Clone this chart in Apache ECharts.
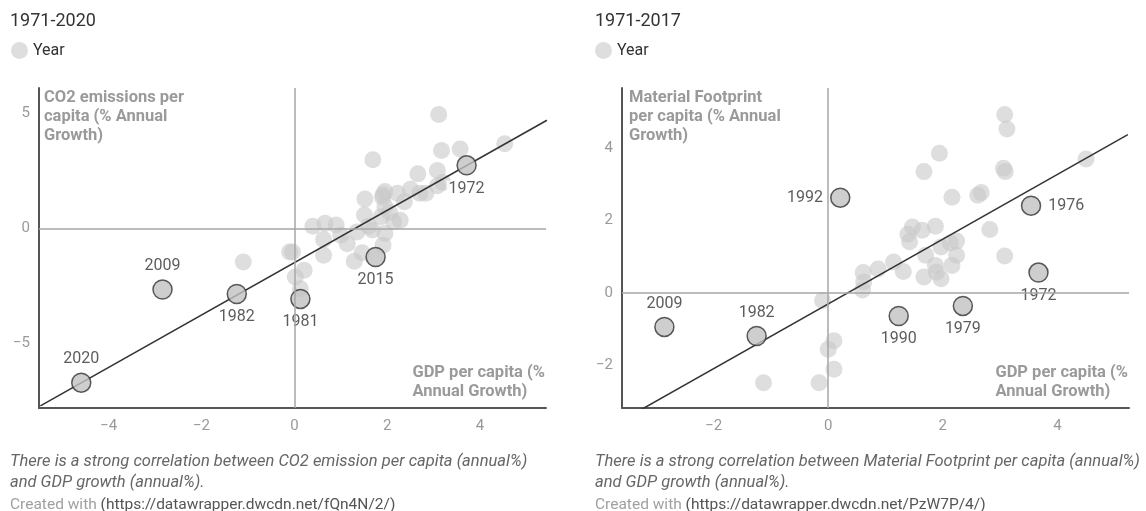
<!DOCTYPE html>
<html style="height: 100%">
<head>
    <meta charset="utf-8">
    <script src="https://cdn.jsdelivr.net/npm/echarts@6/dist/echarts.min.js"></script>
    <title>GDP growth vs CO2 and material footprint</title>
</head>
<body style="height: 100%; margin: 0; background: #fff">
<div id="container" style="width: 1146px; height: 511px"></div>
<script type="text/javascript">
    // ---- left chart: CO2 emissions vs GDP per capita (1971-2020)
    let co2Years = [2020, 2009, 1982, 1981, 2015, 1972];
    let co2YearX = [-4.59, -2.84, -1.24, 0.13, 1.75, 3.71];
    let co2YearY = [-6.70, -2.65, -2.85, -3.06, -1.24, 2.74];
    let co2OtherX = [3.11, 4.53, 3.17, 3.57, 1.69, 2.66, 3.08, 3.08, 2.70, 2.83, 1.95, 1.91, 2.22, 1.52, 2.37,
        1.95, 1.51, 2.14, 2.28, 1.87, 0.66, 0.90, 1.35, 1.68, 1.95, 0.63, 1.14, 1.91, 0.63, 1.46, 1.29, -0.10,
        -0.04, -1.10, 0.21, 0.02, 0.13, 1.90, 2.05, 1.60, 1.00, 2.50, 3.20, 0.40];
    let co2OtherY = [4.95, 3.68, 3.39, 3.45, 2.98, 2.37, 2.52, 1.85, 1.53, 1.53, 1.60, 1.46, 1.53, 1.28, 1.16,
        0.95, 0.58, 0.29, 0.36, 0.51, 0.22, 0.15, -0.15, -0.07, -0.22, -0.48, -0.66, -0.73, -1.16, -1.06, -1.43,
        -1.02, -1.02, -1.46, -1.82, -2.11, -2.62, 1.35, 0.70, 0.10, -0.30, 1.70, 2.00, 0.10];
    let co2Fit = [[-5.47, -7.71], [5.44, 4.70]];

    // ---- right chart: material footprint vs GDP per capita (1971-2017)
    let mfYears = [1992, 1976, 1972, 2009, 1982, 1990, 1979];
    let mfYearX = [0.21, 3.54, 3.67, -2.86, -1.25, 1.23, 2.35];
    let mfYearY = [2.63, 2.41, 0.56, -0.94, -1.19, -0.64, -0.36];
    let mfOtherX = [3.08, 3.12, 1.94, 1.67, 3.06, 3.09, 4.50, 2.67, 2.61, 2.16, 2.82, 1.87, 1.47, 1.64, 1.39,
        1.42, 2.13, 2.24, 1.97, 3.08, 2.24, 1.70, 1.87, 2.16, 1.14, 0.87, 1.31, 0.61, 1.67, 1.97, 1.89, 0.62,
        0.60, -0.10, 0.10, 0.00, 0.10, -1.13, -0.16];
    let mfOtherY = [4.93, 4.53, 3.86, 3.35, 3.44, 3.35, 3.70, 2.77, 2.70, 2.64, 1.75, 1.84, 1.82, 1.73, 1.62,
        1.41, 1.38, 1.43, 1.27, 1.02, 1.04, 1.04, 0.76, 0.76, 0.85, 0.66, 0.59, 0.56, 0.44, 0.39, 0.57, 0.30,
        0.08, -0.21, -1.32, -1.56, -2.11, -2.48, -2.48];
    let mfFit = [[-3.26, -3.22], [5.23, 4.37]];

    // tick labels
    let co2XTicks = [-4, -2, 0, 2, 4];
    let co2YTicks = [-5, 0, 5];
    let mfXTicks = [-2, 0, 2, 4];
    let mfYTicks = [-2, 0, 2, 4];

    // where each year label sits around its dot
    let co2LabelPos = {2020: 'top', 2009: 'top', 1982: 'bottom', 1981: 'bottom', 2015: 'bottom', 1972: 'bottom'};
    let mfLabelPos = {1992: 'left', 1976: 'right', 1972: 'bottom', 2009: 'top', 1982: 'top', 1990: 'bottom', 1979: 'bottom'};

    const FONT = 'Roboto, "Noto Sans", sans-serif';
    const dotColor = 'rgba(200,200,200,0.75)';

    function zip(xs, ys) {
        return xs.map((x, i) => [x, ys[i]]);
    }

    function minus(v) {
        return String(v).replace('-', '\u2212');
    }

    function xAxisFor(idx, min, max, ticks) {
        return {
            type: 'value', gridIndex: idx, min: min, max: max,
            axisLine: {show: true, onZero: false, lineStyle: {color: '#555', width: 2}},
            axisTick: {show: false},
            splitLine: {show: false},
            axisLabel: {customValues: ticks, formatter: minus, color: '#999', fontSize: 15, fontFamily: FONT, margin: 11}
        };
    }

    function yAxisFor(idx, min, max, ticks) {
        return {
            type: 'value', gridIndex: idx, min: min, max: max,
            axisLine: {show: true, onZero: false, lineStyle: {color: '#555', width: 2}},
            axisTick: {show: false},
            splitLine: {show: false},
            axisLabel: {customValues: ticks, formatter: minus, color: '#999', fontSize: 15, fontFamily: FONT, margin: 9}
        };
    }

    function seriesFor(idx, years, xs, ys, otherX, otherY, fit, labelPos) {
        return [
            {   // zero lines
                type: 'scatter', xAxisIndex: idx, yAxisIndex: idx, data: [], z: 1, silent: true,
                markLine: {
                    silent: true, symbol: 'none', label: {show: false},
                    lineStyle: {color: '#a6a6a6', width: 1.5, type: 'solid'},
                    data: [{xAxis: 0}, {yAxis: 0}]
                }
            },
            {
                name: 'Year', type: 'scatter', xAxisIndex: idx, yAxisIndex: idx, z: 2,
                symbolSize: 17, itemStyle: {color: dotColor},
                data: zip(otherX, otherY)
            },
            {
                type: 'line', xAxisIndex: idx, yAxisIndex: idx, z: 3, silent: true,
                symbol: 'none', lineStyle: {color: '#333', width: 1.5},
                data: fit
            },
            {
                name: 'highlight', type: 'scatter', xAxisIndex: idx, yAxisIndex: idx, z: 4,
                symbolSize: 19,
                itemStyle: {color: '#c2c2c2', borderColor: '#333', borderWidth: 1.5},
                data: years.map((yr, i) => ({
                    value: [xs[i], ys[i]],
                    name: String(yr),
                    label: {
                        show: true, formatter: '{b}', position: labelPos[yr], distance: 5,
                        color: '#333', fontSize: 16, fontFamily: FONT,
                        backgroundColor: '#fff', padding: [0, 2]
                    }
                }))
            }
        ];
    }

    function axisTitle(x, y, lines, align) {
        return {
            type: 'text', left: align === 'right' ? undefined : x, right: align === 'right' ? x : undefined, top: y,
            style: {
                text: lines.join('\n'), fill: '#9a9a9a', font: 'bold 16.5px ' + FONT,
                lineHeight: 19, align: align || 'left'
            }
        };
    }

    function caption(x, y, line1, url) {
        return [
            {
                type: 'text', left: x, top: y,
                style: {
                    text: line1 + '\nand GDP growth (annual%).', fill: '#666',
                    font: 'italic 16.5px ' + FONT, lineHeight: 21
                }
            },
            {
                type: 'text', left: x, top: y + 46,
                style: {
                    text: '{a|Created with }{b|(' + url + ')}',
                    rich: {
                        a: {fill: '#a0a0a0', font: '15.5px ' + FONT},
                        b: {fill: '#555', font: '15.5px ' + FONT}
                    }
                }
            }
        ];
    }

    let dom = document.getElementById('container');
    let chart = echarts.init(dom, null, {renderer: 'canvas'});
    chart.setOption({
        animation: false,
        backgroundColor: '#fff',
        textStyle: {fontFamily: FONT},
        title: [
            {text: '1971-2020', left: 10, top: 12, padding: 0, textStyle: {fontSize: 18, fontWeight: 'normal', color: '#333', fontFamily: FONT}},
            {text: '1971-2017', left: 595, top: 12, padding: 0, textStyle: {fontSize: 18, fontWeight: 'normal', color: '#333', fontFamily: FONT}}
        ],
        legend: [
            {data: ['Year'], left: 11, top: 42, padding: 0, icon: 'circle', itemWidth: 17, itemHeight: 17, selectedMode: false,
                textStyle: {fontSize: 16, color: '#333', fontFamily: FONT}},
            {data: ['Year'], left: 595, top: 42, padding: 0, icon: 'circle', itemWidth: 17, itemHeight: 17, selectedMode: false,
                textStyle: {fontSize: 16, color: '#333', fontFamily: FONT}}
        ],
        grid: [
            {left: 39, top: 88, width: 507, height: 320},
            {left: 622, top: 88, width: 507, height: 320}
        ],
        xAxis: [
            xAxisFor(0, -5.5, 5.42, co2XTicks),
            xAxisFor(1, -3.6, 5.25, mfXTicks)
        ],
        yAxis: [
            yAxisFor(0, -7.8, 6.1, co2YTicks),
            yAxisFor(1, -3.18, 5.66, mfYTicks)
        ],
        series: [].concat(
            seriesFor(0, co2Years, co2YearX, co2YearY, co2OtherX, co2OtherY, co2Fit, co2LabelPos),
            seriesFor(1, mfYears, mfYearX, mfYearY, mfOtherX, mfOtherY, mfFit, mfLabelPos)
        ),
        graphic: [].concat(
            [
                axisTitle(44, 88, ['CO2 emissions per', 'capita (% Annual', 'Growth)']),
                axisTitle(601, 363, ['GDP per capita (%', 'Annual Growth)'], 'right'),
                axisTitle(629, 88, ['Material Footprint', 'per capita (% Annual', 'Growth)']),
                axisTitle(18, 363, ['GDP per capita (%', 'Annual Growth)'], 'right')
            ],
            caption(10, 451, 'There is a strong correlation between CO2 emission per capita (annual%)',
                'https://datawrapper.dwcdn.net/fQn4N/2/'),
            caption(595, 451, 'There is a strong correlation between Material Footprint per capita (annual%)',
                'https://datawrapper.dwcdn.net/PzW7P/4/')
        )
    }, true);
</script>
</body>
</html>
